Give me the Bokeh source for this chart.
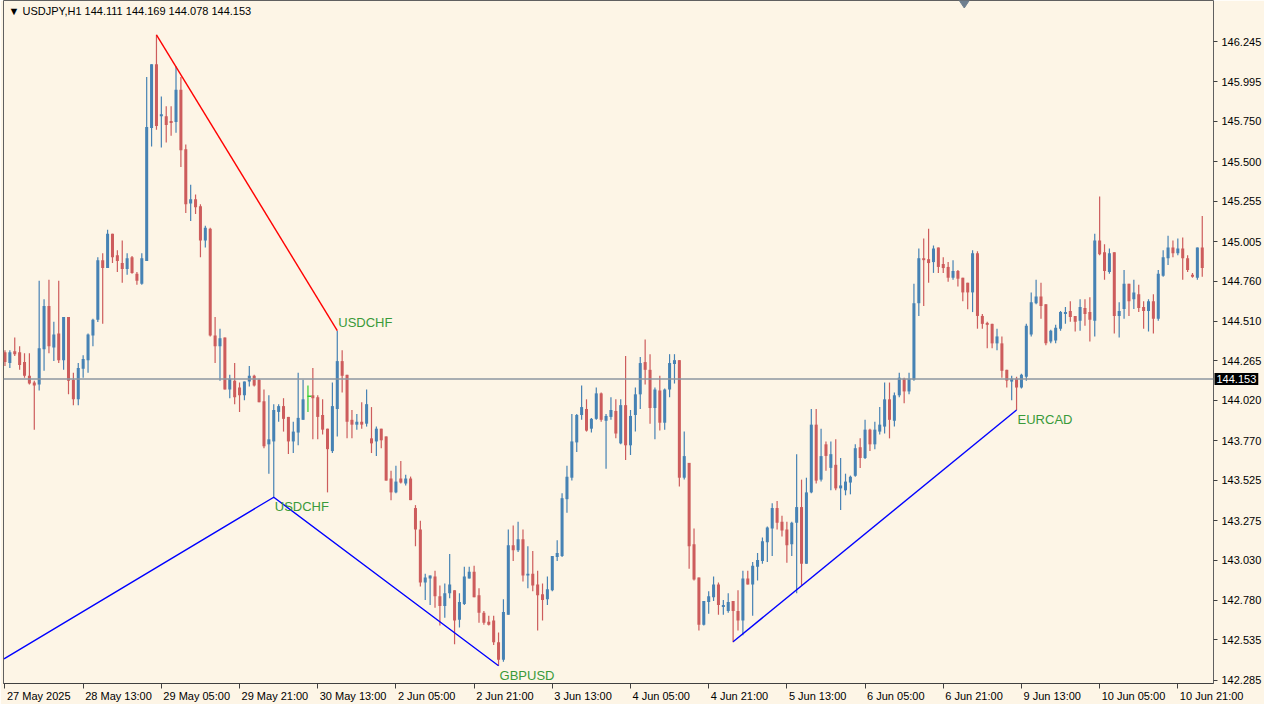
from bokeh.plotting import figure
from bokeh.models import Range1d, FixedTicker, PrintfTickFormatter, Span, Label, ColumnDataSource
from bokeh.embed import file_html
from bokeh.resources import INLINE

# ---------------- data (USDJPY H1) ----------------
opens = [144.319, 144.252, 144.325, 144.319, 144.258, 144.173, 144.131, 144.119, 144.337, 144.605,
         144.349, 144.435, 144.270, 144.538, 144.149, 144.027, 144.216, 144.270, 144.423, 144.520,
         144.890, 144.841, 145.054, 144.921, 144.872, 144.835, 144.908, 144.805, 144.744, 144.884,
         145.710, 146.105, 145.783, 145.783, 145.753, 145.747, 145.947, 145.577, 145.242, 145.267,
         145.224, 145.012, 145.085, 144.423, 144.356, 144.410, 144.088, 144.143, 144.100, 144.052,
         144.137, 144.173, 144.149, 144.015, 143.748, 143.766, 143.949, 143.985, 143.918, 143.766,
         143.821, 143.900, 144.046, 144.052, 144.040, 143.930, 143.845, 143.706, 143.967, 144.264,
         144.179, 143.900, 143.870, 143.888, 143.876, 143.785, 143.766, 143.845, 143.797, 143.536,
         143.450, 143.536, 143.505, 143.536, 143.353, 143.220, 142.892, 142.916, 142.928, 142.806,
         142.746, 142.824, 142.843, 142.661, 142.758, 142.916, 142.958, 142.812, 142.703, 142.648,
         142.655, 142.521, 142.412, 142.691, 143.122, 143.092, 143.159, 142.934, 142.946, 142.879,
         142.818, 142.788, 142.843, 143.050, 143.056, 143.408, 143.541, 143.760, 143.930, 143.967,
         143.845, 143.906, 144.064, 143.894, 143.918, 143.955, 143.754, 143.991, 143.742, 143.930,
         144.058, 144.258, 144.210, 143.973, 144.082, 143.882, 144.088, 144.246, 144.270, 143.541,
         143.633, 143.128, 142.922, 142.630, 142.770, 142.800, 142.879, 142.740, 142.715, 142.776,
         142.715, 142.655, 142.916, 142.879, 142.989, 143.025, 143.141, 143.226, 143.353, 143.268,
         143.220, 143.128, 143.262, 143.359, 143.007, 143.450, 143.870, 143.529, 143.748, 143.602,
         143.621, 143.475, 143.463, 143.511, 143.553, 143.730, 143.663, 143.839, 143.748, 143.827,
         143.858, 144.027, 143.894, 144.052, 144.155, 144.076, 144.149, 144.623, 144.902, 144.896,
         144.878, 144.969, 144.866, 144.848, 144.781, 144.823, 144.781, 144.750, 144.690, 144.933,
         144.544, 144.501, 144.495, 144.374, 144.374, 144.210, 144.137, 144.155, 144.100, 144.167,
         144.429, 144.623, 144.665, 144.617, 144.386, 144.392, 144.465, 144.556, 144.574, 144.544,
         144.514, 144.593, 144.568, 144.514, 145.012, 144.939, 144.817, 144.939, 144.544, 144.587,
         144.744, 144.647, 144.678, 144.599, 144.574, 144.635, 144.526, 144.793, 144.902, 144.969,
         144.933, 144.963, 144.902, 144.799, 144.781, 144.969]
highs = [144.331, 144.331, 144.410, 144.356, 144.313, 144.313, 144.143, 144.763, 144.647, 144.769,
         144.508, 144.763, 144.538, 144.538, 144.192, 144.252, 144.301, 144.435, 144.526, 144.908,
         144.933, 145.079, 145.054, 144.951, 145.012, 144.933, 144.915, 144.817, 144.933, 146.026,
         146.105, 146.287, 145.905, 145.844, 145.844, 146.093, 146.026, 145.607, 145.358, 145.297,
         145.236, 145.103, 145.091, 144.538, 144.465, 144.410, 144.179, 144.252, 144.131, 144.137,
         144.234, 144.179, 144.155, 144.088, 144.052, 143.997, 143.997, 144.034, 143.918, 143.888,
         144.192, 144.149, 144.113, 144.222, 144.052, 144.027, 143.845, 144.131, 144.453, 144.331,
         144.179, 143.961, 143.936, 144.009, 144.088, 143.979, 143.858, 143.845, 143.797, 143.584,
         143.615, 143.645, 143.560, 143.548, 143.371, 143.274, 142.946, 142.934, 142.964, 142.873,
         142.885, 143.068, 142.843, 142.824, 142.989, 142.989, 142.995, 142.855, 142.715, 142.685,
         142.685, 142.582, 142.788, 143.220, 143.244, 143.268, 143.220, 143.116, 143.086, 142.964,
         142.885, 142.928, 143.056, 143.153, 143.444, 143.615, 143.936, 143.936, 144.113, 144.027,
         143.912, 144.100, 144.070, 143.936, 144.040, 144.027, 144.027, 144.295, 143.961, 144.100,
         144.289, 144.398, 144.307, 144.100, 144.173, 144.094, 144.307, 144.307, 144.270, 143.827,
         143.633, 143.226, 142.922, 142.776, 142.837, 142.928, 142.891, 142.782, 142.824, 142.776,
         142.843, 142.964, 142.964, 143.019, 143.074, 143.171, 143.238, 143.383, 143.396, 143.305,
         143.268, 143.268, 143.687, 143.529, 143.541, 143.967, 143.967, 143.845, 143.766, 143.766,
         143.779, 143.663, 143.566, 143.554, 143.748, 143.785, 143.900, 143.845, 143.888, 143.979,
         144.131, 144.131, 144.070, 144.192, 144.161, 144.192, 144.744, 144.963, 145.024, 145.085,
         144.981, 144.969, 144.908, 144.878, 144.890, 144.829, 144.781, 144.750, 144.951, 144.945,
         144.556, 144.508, 144.495, 144.465, 144.417, 144.210, 144.173, 144.167, 144.185, 144.495,
         144.690, 144.769, 144.750, 144.617, 144.459, 144.490, 144.574, 144.599, 144.635, 144.544,
         144.647, 144.647, 144.660, 145.054, 145.285, 144.988, 144.963, 144.939, 144.629, 144.829,
         144.744, 144.769, 144.738, 144.635, 144.647, 144.678, 144.829, 144.951, 145.042, 145.012,
         145.024, 145.030, 144.921, 144.811, 144.969, 145.164]
lows = [144.234, 144.222, 144.295, 144.210, 144.161, 144.119, 143.839, 144.082, 144.204, 144.313,
        144.264, 144.252, 144.210, 144.058, 143.991, 143.991, 144.161, 144.192, 144.356, 144.507,
        144.495, 144.841, 144.872, 144.817, 144.750, 144.799, 144.805, 144.738, 144.738, 144.884,
        145.595, 145.698, 145.589, 145.619, 145.662, 145.680, 145.467, 145.182, 145.133, 145.176,
        144.908, 144.969, 144.417, 144.252, 144.143, 144.088, 144.034, 143.997, 143.949, 144.021,
        144.107, 144.107, 144.009, 143.724, 143.566, 143.420, 143.888, 143.827, 143.688, 143.694,
        143.742, 143.900, 143.949, 143.779, 143.779, 143.809, 143.450, 143.694, 143.797, 144.070,
        143.785, 143.785, 143.839, 143.845, 143.858, 143.694, 143.676, 143.724, 143.523, 143.402,
        143.444, 143.505, 143.493, 143.402, 143.116, 142.867, 142.782, 142.752, 142.734, 142.624,
        142.673, 142.794, 142.509, 142.612, 142.752, 142.916, 142.800, 142.642, 142.630, 142.624,
        142.503, 142.375, 142.400, 142.691, 143.025, 143.080, 142.898, 142.855, 142.837, 142.594,
        142.655, 142.752, 142.837, 143.025, 143.050, 143.323, 143.523, 143.700, 143.900, 143.827,
        143.821, 143.900, 143.888, 143.596, 143.900, 143.785, 143.748, 143.651, 143.682, 143.827,
        143.967, 144.119, 143.876, 143.779, 143.833, 143.839, 144.040, 144.125, 143.487, 143.530,
        142.977, 142.904, 142.594, 142.624, 142.697, 142.776, 142.691, 142.691, 142.703, 142.521,
        142.594, 142.564, 142.879, 142.685, 142.904, 143.007, 143.019, 143.056, 143.220, 143.177,
        143.013, 143.056, 142.824, 142.873, 143.007, 143.444, 143.505, 143.517, 143.584, 143.463,
        143.463, 143.341, 143.432, 143.438, 143.547, 143.602, 143.657, 143.706, 143.718, 143.809,
        143.815, 143.785, 143.858, 144.040, 144.003, 144.058, 144.143, 144.544, 144.605, 144.750,
        144.811, 144.811, 144.811, 144.756, 144.769, 144.726, 144.635, 144.586, 144.568, 144.465,
        144.465, 144.344, 144.344, 144.331, 144.161, 144.100, 144.021, 143.961, 144.094, 144.143,
        144.417, 144.617, 144.526, 144.362, 144.374, 144.374, 144.453, 144.495, 144.508, 144.447,
        144.453, 144.483, 144.386, 144.417, 144.921, 144.769, 144.805, 144.435, 144.411, 144.526,
        144.544, 144.587, 144.568, 144.465, 144.447, 144.435, 144.514, 144.787, 144.860, 144.908,
        144.921, 144.769, 144.817, 144.781, 144.769, 144.787]
closes = [144.258, 144.319, 144.307, 144.240, 144.173, 144.125, 144.113, 144.343, 144.605, 144.356,
          144.429, 144.270, 144.538, 144.143, 144.027, 144.222, 144.277, 144.429, 144.520, 144.890,
          144.841, 145.054, 144.908, 144.884, 144.835, 144.902, 144.811, 144.763, 144.902, 145.716,
          146.105, 145.722, 145.795, 145.728, 145.741, 145.947, 145.571, 145.236, 145.267, 145.218,
          145.012, 145.091, 144.423, 144.356, 144.405, 144.088, 144.155, 144.040, 144.052, 144.137,
          144.173, 144.113, 144.009, 143.736, 143.779, 143.961, 143.985, 143.906, 143.766, 143.827,
          143.912, 144.027, 144.046, 144.034, 143.918, 143.839, 143.718, 143.985, 144.264, 144.173,
          143.888, 143.870, 143.888, 143.870, 143.997, 143.754, 143.845, 143.773, 143.523, 143.450,
          143.517, 143.511, 143.536, 143.402, 143.220, 142.892, 142.922, 142.934, 142.806, 142.746,
          142.824, 142.879, 142.655, 142.770, 142.928, 142.958, 142.800, 142.703, 142.642, 142.630,
          142.521, 142.412, 142.709, 143.122, 143.092, 143.159, 142.934, 142.946, 142.873, 142.812,
          142.782, 142.849, 143.056, 143.074, 143.414, 143.547, 143.766, 143.930, 143.979, 143.833,
          143.906, 144.064, 143.900, 143.924, 143.961, 143.815, 143.991, 143.742, 143.924, 144.058,
          144.252, 144.210, 143.973, 144.088, 143.882, 144.088, 144.252, 144.270, 143.541, 143.675,
          143.116, 142.910, 142.630, 142.776, 142.806, 142.879, 142.752, 142.752, 142.770, 142.715,
          142.655, 142.916, 142.879, 142.995, 143.031, 143.147, 143.232, 143.353, 143.262, 143.213,
          143.122, 143.262, 143.359, 143.007, 143.450, 143.870, 143.523, 143.675, 143.676, 143.687,
          143.475, 143.493, 143.517, 143.547, 143.724, 143.663, 143.839, 143.748, 143.839, 143.870,
          144.027, 143.900, 144.052, 144.161, 144.076, 144.155, 144.623, 144.902, 144.890, 144.872,
          144.963, 144.848, 144.841, 144.781, 144.823, 144.775, 144.690, 144.690, 144.933, 144.544,
          144.495, 144.489, 144.374, 144.417, 144.204, 144.143, 144.155, 144.100, 144.179, 144.483,
          144.629, 144.665, 144.605, 144.374, 144.453, 144.471, 144.568, 144.568, 144.538, 144.508,
          144.599, 144.556, 144.520, 145.012, 144.927, 144.823, 144.933, 144.544, 144.574, 144.744,
          144.635, 144.690, 144.593, 144.574, 144.635, 144.526, 144.805, 144.908, 144.969, 144.933,
          144.963, 144.902, 144.829, 144.787, 144.969, 144.841]

tick_idx = [0, 16, 32, 48, 64, 80, 96, 112, 128, 144, 160, 176, 192, 208, 224, 240]
tick_labels = ["27 May 2025", "28 May 13:00", "29 May 05:00", "29 May 21:00", "30 May 13:00",
               "2 Jun 05:00", "2 Jun 21:00", "3 Jun 13:00", "4 Jun 05:00", "4 Jun 21:00",
               "5 Jun 13:00", "6 Jun 05:00", "6 Jun 21:00", "9 Jun 13:00", "10 Jun 05:00",
               "10 Jun 21:00"]
price_ticks = [146.245, 145.995, 145.750, 145.500, 145.255, 145.005, 144.760, 144.510, 144.265,
               144.020, 143.770, 143.525, 143.275, 143.030, 142.780, 142.535, 142.285]
last_price = 144.153
header_text = "USDJPY,H1  144.111 144.169 144.078 144.153"

# trend lines (bar index, price)
red_x = [31, 68]
red_y = [146.287, 144.453]
blue1_x = [-0.2, 55, 101]
blue1_y = [142.418, 143.420, 142.375]
blue2_x = [149, 207]
blue2_y = [142.524, 143.961]
swing_x = [68, 55, 101, 207]
swing_y = [144.453, 143.420, 142.375, 143.961]
swing_names = ["USDCHF", "USDCHF", "GBPUSD", "EURCAD"]
swing_is_high = [True, False, False, False]
marker_x = [196.3]

# ---------------- styles ----------------
BG = "#FDF5E6"
BULL = "#4682B4"
BEAR = "#CD5C5C"
DOJI = "#32CD32"
FONT = "Liberation Sans"
W, H = 1264, 704
LEFT = 3
TAG_W = 44          # width of the price-tag panel (text 144.153 + padding)
RIGHT_TOTAL = 52

n = len(opens)
idx = list(range(n))
cols = [BULL if c > o else (BEAR if c < o else DOJI) for o, c in zip(opens, closes)]

src = ColumnDataSource(dict(
    x=idx, o=opens, h=highs, l=lows, c=closes,
    top=[max(o, c) for o, c in zip(opens, closes)],
    bot=[min(o, c) for o, c in zip(opens, closes)],
    col=cols))

x_lo, x_hi = -0.3, 247.3
y_lo, y_hi = 142.265, 146.50

p = figure(width=W, height=H, x_range=Range1d(x_lo, x_hi), y_range=Range1d(y_lo, y_hi),
           y_axis_location="right", output_backend="svg", toolbar_location=None,
           min_border_left=LEFT, min_border_top=0, min_border_bottom=4, min_border_right=0)
p.background_fill_color = BG
p.border_fill_color = BG
p.outline_line_color = "#606060"
p.grid.visible = False

# x axis: tick marks at the bars (minor ticks), text left-aligned after each tick
char_w = {"M": 0.833, "a": 0.556, "y": 0.5, "J": 0.5, "u": 0.556, "n": 0.556, " ": 0.278, ":": 0.278}
px_per_bar = (W - LEFT - RIGHT_TOTAL) / (x_hi - x_lo)
label_centers = []
for t, lab in zip(tick_idx, tick_labels):
    wpx = sum(char_w.get(ch, 0.556) for ch in lab) * 11
    label_centers.append(t + (wpx / 2 + 2) / px_per_bar)
p.xaxis.ticker = FixedTicker(ticks=label_centers, minor_ticks=tick_idx)
p.xaxis.major_label_overrides = {c: lab for c, lab in zip(label_centers, tick_labels)}
p.xaxis.major_tick_line_color = None
p.xaxis.major_tick_out = 5
p.xaxis.major_tick_in = 0
p.xaxis.minor_tick_out = 5
p.xaxis.minor_tick_in = 0
p.xaxis.minor_tick_line_color = "#404040"
p.xaxis.major_label_standoff = 1
p.xaxis.major_label_text_font = FONT
p.xaxis.major_label_text_font_size = "11px"
p.xaxis.major_label_text_color = "black"
p.xaxis.axis_line_color = "#404040"

# y axis on the right: sits after the price-tag panel, its ticks and labels drawn
# back next to the frame edge
yax = p.yaxis[0]
yax.ticker = FixedTicker(ticks=price_ticks, minor_ticks=price_ticks)
yax.formatter = PrintfTickFormatter(format="%.3f")
yax.major_label_text_font = FONT
yax.major_label_text_font_size = "11px"
yax.major_label_text_color = "black"
yax.axis_line_color = None
yax.major_tick_line_color = None
yax.major_tick_in = 0
yax.major_tick_out = 0
yax.minor_tick_in = TAG_W
yax.minor_tick_out = -(TAG_W - 4)
yax.minor_tick_line_color = "#404040"
yax.major_label_standoff = -(TAG_W - 8)

# current price tag
tag = Label(x=1, x_units="screen", y=last_price, y_units="data",
            text=f"{last_price:.3f}", text_align="left", text_baseline="middle",
            text_font=FONT, text_font_size="11px", text_color="white",
            background_fill_color="black", padding=2)
p.right = [tag, yax]

# current price line
p.add_layout(Span(location=last_price, dimension="width", line_color="#8C96A0", line_width=1.3))

# candles
p.segment(x0="x", y0="l", x1="x", y1="h", source=src, line_color="col", line_width=1.2)
p.vbar(x="x", width=0.62, top="top", bottom="bot", source=src, fill_color="col", line_color=None)
doji_x = [i for i in idx if cols[i] == DOJI]
p.segment(x0=[i - 0.1 for i in doji_x], x1=[i + 0.7 for i in doji_x],
          y0=[opens[i] for i in doji_x], y1=[opens[i] for i in doji_x],
          line_color=DOJI, line_width=1.5)

# trend lines
p.line(red_x, red_y, line_color="#FF0000", line_width=1.4)
p.line(blue1_x, blue1_y, line_color="#0000FF", line_width=1.4)
p.line(blue2_x, blue2_y, line_color="#0000FF", line_width=1.4)

# swing labels
for sx, sy, name, hi in zip(swing_x, swing_y, swing_names, swing_is_high):
    p.add_layout(Label(x=sx, y=sy, text=name, x_offset=1, y_offset=(1 if hi else -2),
                       text_baseline=("bottom" if hi else "top"), text_align="left",
                       text_font=FONT, text_font_size="13px", text_color="#3A9A3A"))

# top diamond marker
p.scatter(marker_x, [y_hi] * len(marker_x), marker="diamond", size=15,
          fill_color="#6F7F8F", line_color="#6F7F8F")

# header
p.add_layout(Label(x=x_lo, y=y_hi, text="\u25BC " + header_text, x_offset=5, y_offset=-4,
                   text_align="left", text_baseline="top", text_font=FONT,
                   text_font_size="11px", text_color="black"))

open("out.html", "w").write(file_html(p, INLINE))
